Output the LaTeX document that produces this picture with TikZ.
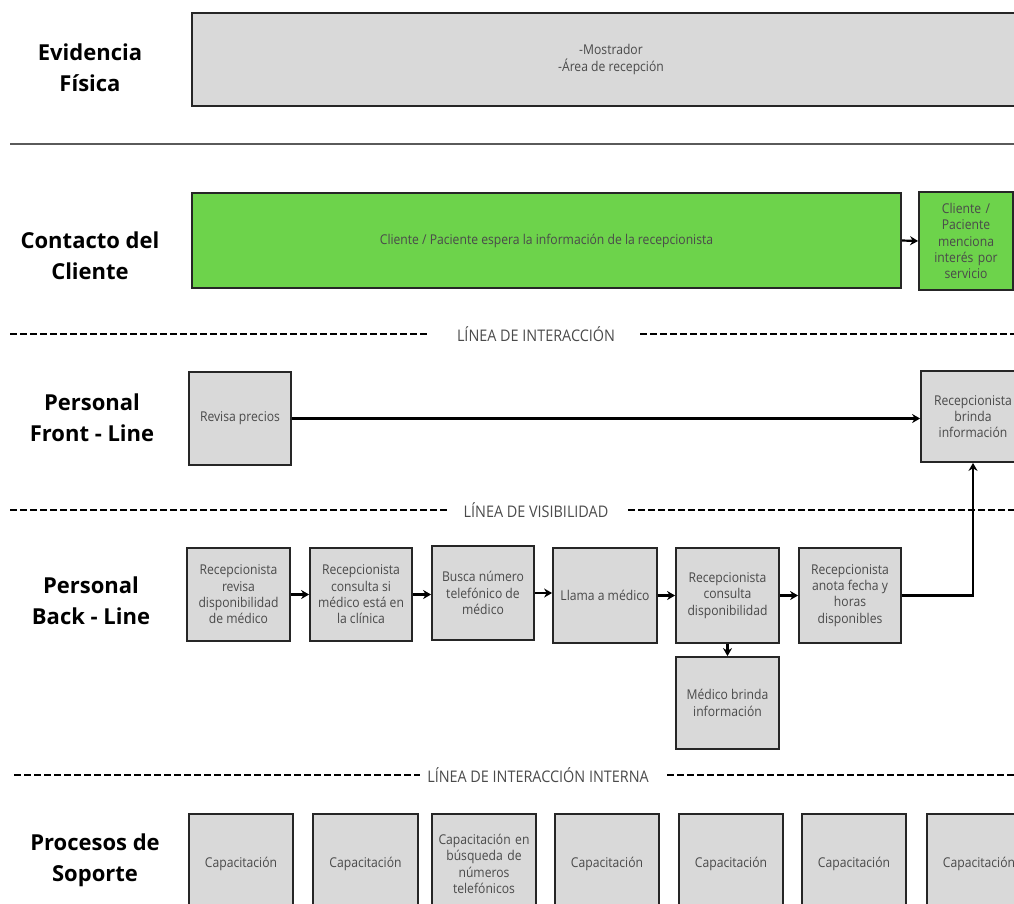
\documentclass[tikz,border=0pt]{standalone}
\usepackage{fontspec}
\setmainfont{Open Sans}
\newfontfamily\boxfont{Open Sans}[FakeStretch=0.9]
\usetikzlibrary{arrows.meta}
\definecolor{boxgray}{HTML}{D9D9D9}
\definecolor{boxgreen}{HTML}{6DD34B}
\definecolor{txtgray}{HTML}{4A4A4A}
\definecolor{rulegray}{HTML}{5A5A5A}
\begin{document}
\begin{tikzpicture}[x=1pt,y=-1pt,
  box/.style={draw=black!85, line width=1.8pt, fill=boxgray, rectangle, inner sep=2pt,
    align=center, text=txtgray, font=\boxfont\fontsize{13.5}{16.3}\selectfont},
  greenbox/.style={box, fill=boxgreen},
  lanelabel/.style={font=\fontsize{22}{31}\selectfont\bfseries, align=center},
  septext/.style={text=txtgray, font=\boxfont\fontsize{16}{18}\selectfont},
  sepline/.style={line width=2pt, dash pattern=on 7pt off 3pt},
  flow/.style={-{Stealth[length=8pt,width=9pt]}, line width=2.2pt}
]
\useasboundingbox (0,0) rectangle (1014,903);
\clip (0,0) rectangle (1014,903);

% lane titles
\node[lanelabel] (tEv) at (90,68)  {Evidencia\\Física};
\node[lanelabel] (tCo) at (90,256) {Contacto del\\Cliente};
\node[lanelabel] (tFr) at (92,418) {Personal\\Front - Line};
\node[lanelabel] (tBa) at (91,601) {Personal\\Back - Line};
\node[lanelabel] (tSo) at (95,860) {Procesos de\\Soporte};

% physical evidence
\node[box, minimum width=838, minimum height=93] (ev) at (611,59.5)
  {-Mostrador\\-Área de recepción};
\coordinate (r1a) at (10,144);
\coordinate (r1b) at (1014,144);
\draw[rulegray, line width=1.4pt] (r1a) -- (r1b);

% customer actions
\node[greenbox, minimum width=709, minimum height=95] (g1) at (546.5,240.5)
  {Cliente / Paciente espera la información de la recepcionista};
\node[greenbox, minimum width=94, minimum height=98, text width=84] (g2) at (966,241)
  {Cliente /\\Paciente\\menciona\\interés por\\servicio};
\draw[flow] (g1.east) -- (g2.west);

% line of interaction
\node[septext] (li) at (536,334) {LÍNEA DE INTERACCIÓN};
\coordinate (li1) at (10,334);
\coordinate (li2) at (430,334);
\coordinate (li3) at (640,334);
\coordinate (li4) at (1014,334);
\draw[sepline] (li1) -- (li2);
\draw[sepline] (li3) -- (li4);

% front line
\node[box, minimum width=102, minimum height=93] (fr1) at (240,418.5) {Revisa precios};
\node[box, minimum width=104, minimum height=91] (fr2) at (973,416.5)
  {Recepcionista\\brinda\\información};
\draw[flow] (fr1.east) -- (fr1.east -| fr2.west);

% line of visibility
\node[septext] (lv) at (536,510) {LÍNEA DE VISIBILIDAD};
\coordinate (lv1) at (10,510);
\coordinate (lv2) at (450,510);
\coordinate (lv3) at (628,510);
\coordinate (lv4) at (1014,510);
\draw[sepline] (lv1) -- (lv2);
\draw[sepline] (lv3) -- (lv4);

% back line
\node[box, minimum width=103, minimum height=93] (b1) at (238.5,594.5)
  {Recepcionista\\revisa\\disponibilidad\\de médico};
\node[box, minimum width=102, minimum height=93] (b2) at (361,594.5)
  {Recepcionista\\consulta si\\médico está en\\la clínica};
\node[box, minimum width=102, minimum height=94] (b3) at (483,593)
  {Busca número\\telefónico de\\médico};
\node[box, minimum width=104, minimum height=95] (b4) at (605,595.5) {Llama a médico};
\node[box, minimum width=103, minimum height=95] (b5) at (727.5,595.5)
  {Recepcionista\\consulta\\disponibilidad};
\node[box, minimum width=102, minimum height=95] (b6) at (850,595.5)
  {Recepcionista\\anota fecha y\\horas\\disponibles};
\node[box, minimum width=103, minimum height=92] (b7) at (727.5,703)
  {Médico brinda\\información};
\draw[flow] (b1.east) -- (b1.east -| b2.west);
\draw[flow] (b2.east) -- (b2.east -| b3.west);
\draw[flow] (b3.east) -- (b3.east -| b4.west);
\draw[flow] (b4.east) -- (b4.east -| b5.west);
\draw[flow] (b5.east) -- (b5.east -| b6.west);
\draw[flow] (b5.south) -- (b7.north);
\draw[flow] (b6.east) -| (fr2.south);

% line of internal interaction
\node[septext] (lii) at (538,775) {LÍNEA DE INTERACCIÓN INTERNA};
\coordinate (lii1) at (14,775);
\coordinate (lii2) at (420,775);
\coordinate (lii3) at (667,775);
\coordinate (lii4) at (1014,775);
\draw[sepline] (lii1) -- (lii2);
\draw[sepline] (lii3) -- (lii4);

% support processes
\node[box, minimum width=104, minimum height=100] (s1) at (241,864) {Capacitación};
\node[box, minimum width=105, minimum height=100] (s2) at (365.5,864) {Capacitación};
\node[box, minimum width=104, minimum height=100, text width=100] (s3) at (484,864)
  {Capacitación en\\búsqueda de\\números\\telefónicos};
\node[box, minimum width=104, minimum height=100] (s4) at (607,864) {Capacitación};
\node[box, minimum width=104, minimum height=100] (s5) at (731,864) {Capacitación};
\node[box, minimum width=104, minimum height=100] (s6) at (854,864) {Capacitación};
\node[box, minimum width=104, minimum height=100] (s7) at (979,864) {Capacitación};
\end{tikzpicture}
\end{document}
